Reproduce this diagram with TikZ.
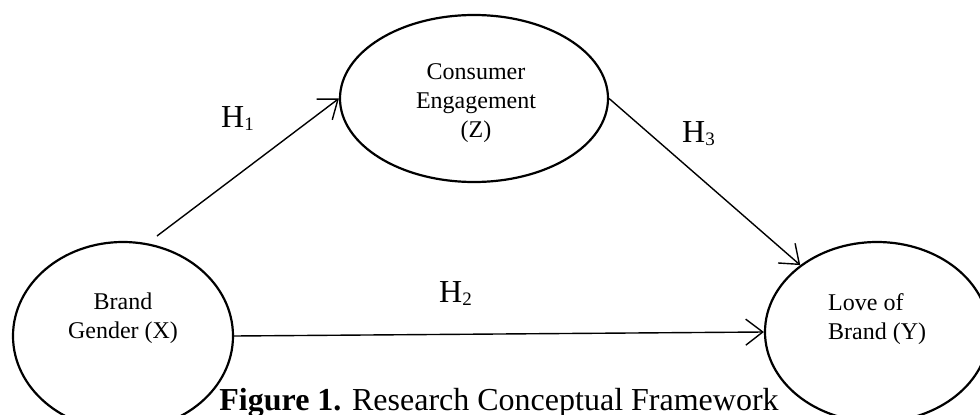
\documentclass[tikz,border=0pt]{standalone}
\usepackage{fontspec}
\setmainfont{Liberation Serif}
\usetikzlibrary{arrows.meta,shapes.geometric}
\begin{document}
\begin{tikzpicture}[x=1pt,y=-1pt,
  latent/.style={draw, ellipse, line width=2.2pt, inner sep=0pt},
  hpath/.style={line width=1.4pt, -{Straight Barb[length=17pt,width=26pt]}},
  vtext/.style={font=\fontsize{24}{29}\selectfont, inner sep=0pt},
  hlab/.style={font=\fontsize{32}{32}\selectfont, inner sep=0pt, anchor=base west}]
\useasboundingbox (0,0) rectangle (980,415);
\clip (0,0) rectangle (980,415);
% latent variables
\node[latent, minimum width=268pt, minimum height=167pt] (Z) at (474,98.5) {};
\node[latent, minimum width=220pt, minimum height=188pt] (X) at (123,336) {};
\node[latent, minimum width=224pt, minimum height=180pt] (Y) at (877,332) {};
% texts (base = baseline of the last line)
\node[vtext, align=center, anchor=base] (zt) at (476,137) {Consumer\\Engagement\\(Z)};
\node[vtext, align=center, anchor=base] (xt) at (123,338) {Brand\\Gender (X)};
\node[vtext, align=left, anchor=base west] (yt) at (828,339) {Love of\\Brand (Y)};
% connectors
\coordinate (h1s) at (157,236);
\draw[hpath] (h1s) -- (Z.west);
\draw[hpath] (X.east) -- (Y.west);
\draw[hpath] (Z.east) -- (Y);
% labels
\node[hlab] (h1) at (221,127) {H\raisebox{-3pt}{\fontsize{19}{19}\selectfont 1}};
\node[hlab] (h2) at (439,302) {H\raisebox{-3pt}{\fontsize{19}{19}\selectfont 2}};
\node[hlab] (h3) at (682,142) {H\raisebox{-3pt}{\fontsize{19}{19}\selectfont 3}};
% caption
\node[font=\fontsize{32}{32}\selectfont, anchor=base, inner sep=0pt] (cap) at (499,410) {\textbf{Figure 1.} Research Conceptual Framework};
\end{tikzpicture}
\end{document}
